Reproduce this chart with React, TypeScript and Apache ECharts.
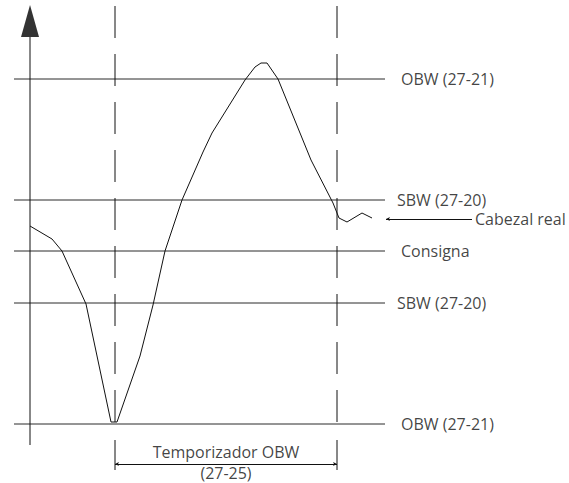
import React, { useEffect, useRef } from "react";
import * as echarts from "echarts";

// Time axis positions (arbitrary time units) and head values relative to setpoint
const curveTime = [30, 52, 62, 86, 111, 117, 140, 153, 165, 182, 203, 212, 245, 255, 261, 267, 278, 311, 333, 339, 347, 362, 372];
const curveHead = [25, 12, 0, -53, -171, -171, -105, -54, 0, 51, 99, 118, 171, 184, 188, 188, 172, 91, 48, 33, 29, 38, 33];

const levelNames = ["OBW (27-21)", "SBW (27-20)", "Consigna", "SBW (27-20)", "OBW (27-21)"];
const levelValues = [172, 51, 0, -52, -173];
const levelLabelGap = [16, 12, 16, 12, 16];

const timerStart = 115;
const timerEnd = 337;
const timerLabel = ["Temporizador OBW", "(27-25)"];
const actualHeadLabel = "Cabezal real";

const X_MIN = 0, X_MAX = 569, Y_MIN = -232, Y_MAX = 251;
const FONT = "Open Sans";
const INK = "#111";
const FS = 16;

export default function App() {
  const ref = useRef<HTMLDivElement>(null);
  useEffect(() => {
    if (!ref.current) return;
    const chart = echarts.init(ref.current, undefined, { renderer: "svg" });
    const lineStart = 14, lineEnd = 385;
    const axisX = 30;
    const series: any[] = [];

    // level lines
    levelValues.forEach((v, i) => {
      series.push({
        type: "line",
        data: [[lineStart, v], [lineEnd, v]],
        symbol: "none",
        lineStyle: { color: "#2a2a2a", width: 1 },
        silent: true,
      });
      series.push({
        type: "scatter",
        data: [[lineEnd, v]],
        symbolSize: 0,
        itemStyle: { color: "transparent" },
        label: {
          show: true,
          position: "right",
          distance: levelLabelGap[i],
          formatter: levelNames[i],
          fontFamily: FONT,
          fontSize: FS,
          color: INK,
        },
        silent: true,
      });
    });

    // vertical axis
    series.push({
      type: "line",
      data: [[axisX, -194], [axisX, 214]],
      symbol: "none",
      lineStyle: { color: "#111", width: 1 },
      silent: true,
    });
    series.push({
      type: "scatter",
      data: [[axisX, 230]],
      symbol: "triangle",
      symbolSize: [18, 32],
      itemStyle: { color: "#000" },
      silent: true,
    });

    // dashed timer boundaries
    [timerStart, timerEnd].forEach((t) => {
      series.push({
        type: "line",
        data: [[t, 245], [t, -172]],
        symbol: "none",
        lineStyle: { color: "#111", width: 1, type: [32, 16] },
        silent: true,
      });
      series.push({
        type: "line",
        data: [[t, -189], [t, -219]],
        symbol: "none",
        lineStyle: { color: "#111", width: 1 },
        silent: true,
      });
    });

    // bracket with arrows + actual head pointer
    series.push({
      type: "line",
      data: [],
      silent: true,
      markLine: {
        silent: true,
        animation: false,
        label: { show: false },
        lineStyle: { type: "solid", color: "#111", width: 1 },
        symbol: ["arrow", "arrow"],
        symbolSize: [3, 4],
        data: [
          [{ coord: [timerStart, -213] }, { coord: [timerEnd, -213] }],
          [{ coord: [386, 32], symbol: "arrow" }, { coord: [472, 32], symbol: "none" }],
        ],
      },
    });

    // texts
    series.push({
      type: "scatter",
      data: [
        { value: [(timerStart + timerEnd) / 2, -201], label: { formatter: timerLabel[0] } },
        { value: [(timerStart + timerEnd) / 2, -222], label: { formatter: timerLabel[1] } },
      ],
      symbolSize: 0,
      itemStyle: { color: "transparent" },
      label: { show: true, position: "inside", fontFamily: FONT, fontSize: FS, color: INK },
      silent: true,
    });
    series.push({
      type: "scatter",
      data: [[472, 32]],
      symbolSize: 0,
      itemStyle: { color: "transparent" },
      label: { show: true, position: "right", distance: 3, formatter: actualHeadLabel, fontFamily: FONT, fontSize: FS, color: INK },
      silent: true,
    });

    // actual head curve
    series.push({
      type: "line",
      data: curveTime.map((t, i) => [t, curveHead[i]]),
      symbol: "none",
      lineStyle: { color: "#111", width: 1 },
      silent: true,
    });

    chart.setOption({
      animation: false,
      backgroundColor: "#fff",
      grid: { left: 0, right: 0, top: 0, bottom: 0 },
      xAxis: { type: "value", min: X_MIN, max: X_MAX, show: false },
      yAxis: { type: "value", min: Y_MIN, max: Y_MAX, show: false },
      series,
    });
    return () => chart.dispose();
  }, []);
  return <div ref={ref} style={{ position: "fixed", left: 0, top: 0, width: 569, height: 483 }} />;
}
